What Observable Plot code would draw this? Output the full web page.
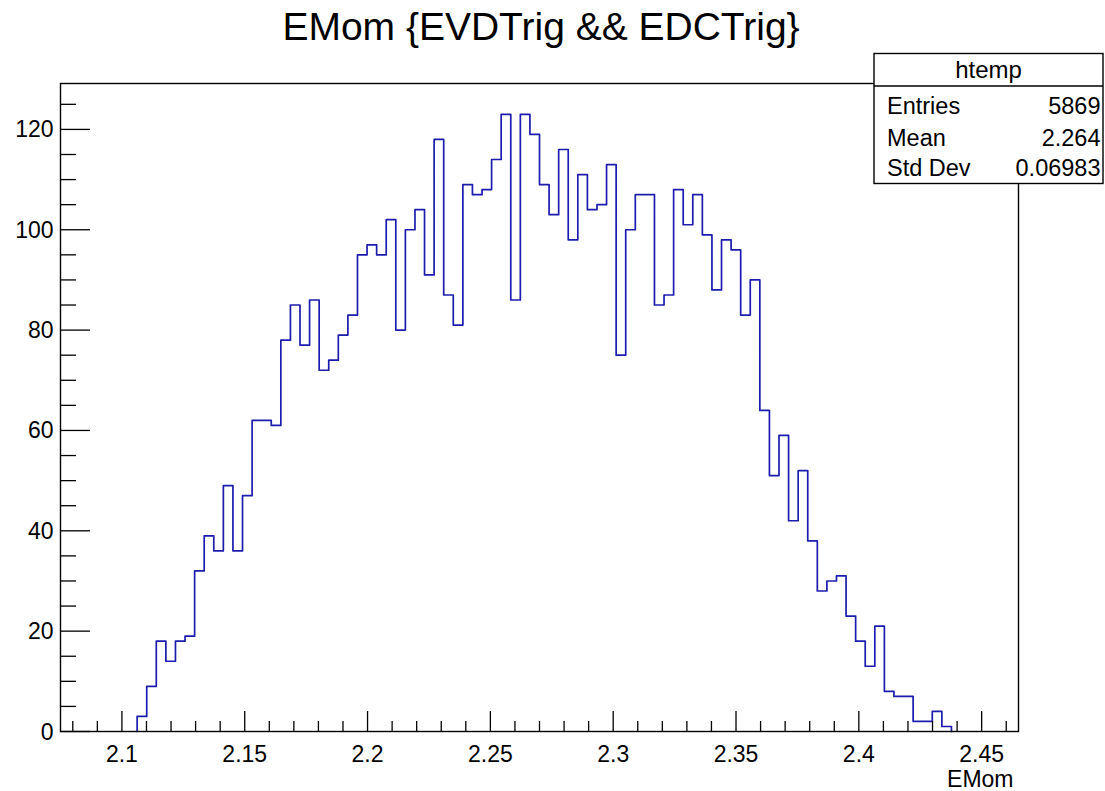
<!DOCTYPE html>
<html><head><meta charset="utf-8">
<script src="https://cdn.jsdelivr.net/npm/d3@7"></script>
<script src="https://cdn.jsdelivr.net/npm/@observablehq/plot@0.6"></script>
<style>html,body{margin:0;padding:0;background:#fff;}</style>
</head><body><div id="chart"></div>
<script>
// ---- data ----
const title = "EMom {EVDTrig && EDCTrig}";
const xLabel = "EMom";
const histName = "htemp";
const statLabels = ["Entries", "Mean", "Std Dev"];
const statValues = ["5869", "2.264", "0.06983"];
const xMin = 2.075, xMax = 2.465, nBins = 100;
const counts = [
  0,0,0,0,0,0,0,0,
  3,9,18,14,18,19,32,39,36,49,36,47,62,62,61,78,85,77,86,72,74,79,83,95,97,95,
  102,80,100,104,91,118,87,81,109,107,108,114,123,86,123,119,109,103,116,98,111,104,105,113,75,100,107,107,
  85,87,108,101,107,99,88,98,96,83,90,64,51,59,42,52,38,28,30,31,23,18,13,21,8,7,7,2,2,4,1,
  0,0,0,0,0,0,0
];
const xTicks = [2.1, 2.15, 2.2, 2.25, 2.3, 2.35, 2.4, 2.45];
const xTickLabels = ["2.1", "2.15", "2.2", "2.25", "2.3", "2.35", "2.4", "2.45"];
const xMinorTicks = [2.08, 2.09, 2.11, 2.12, 2.13, 2.14, 2.16, 2.17, 2.18, 2.19, 2.21, 2.22, 2.23, 2.24,
  2.26, 2.27, 2.28, 2.29, 2.31, 2.32, 2.33, 2.34, 2.36, 2.37, 2.38, 2.39, 2.41, 2.42, 2.43, 2.44, 2.46];
const yTicks = [0, 20, 40, 60, 80, 100, 120];
const yMinorTicks = [5, 10, 15, 25, 30, 35, 45, 50, 55, 65, 70, 75, 85, 90, 95, 105, 110, 115, 125];
const yMax = 129.15;

// ---- layout ----
const W = 1105, H = 791, mL = 60, mR = 87, mT = 83, mB = 60;
const ux = (xMax - xMin) / (W - mL - mR);
const uy = yMax / (H - mT - mB);
const font = "'Liberation Sans', Arial, Helvetica, sans-serif";
const binW = (xMax - xMin) / nBins;
// outline of the histogram from the first to the last filled bin (zero bins lie on the axis)
const first = counts.findIndex(c => c > 0);
let last = counts.length - 1;
while (last > 0 && counts[last] === 0) last--;
const pts = [{x: xMin + first * binW, y: 0}];
for (let i = first; i <= last; i++) pts.push({x: xMin + i * binW, y: counts[i]});
pts.push({x: xMin + (last + 1) * binW, y: counts[last]});
pts.push({x: xMin + (last + 1) * binW, y: 0});

const svg = Plot.plot({
  width: W, height: H,
  marginLeft: mL, marginRight: mR, marginTop: mT, marginBottom: mB,
  x: {domain: [xMin, xMax], axis: null},
  y: {domain: [0, yMax], axis: null},
  style: {fontFamily: font, background: "white", overflow: "visible"},
  marks: [
    Plot.line(pts, {x: "x", y: "y", curve: "step-after", stroke: "#1c1cae", strokeWidth: 1.7}),
    Plot.ruleX(xTicks, {x: d => d, y1: 0, y2: 20 * uy, stroke: "#000", strokeWidth: 1.3}),
    Plot.ruleX(xMinorTicks, {x: d => d, y1: 0, y2: 10 * uy, stroke: "#000", strokeWidth: 1.3}),
    Plot.ruleY(yTicks, {y: d => d, x1: xMin, x2: xMin + 30 * ux, stroke: "#000", strokeWidth: 1.3}),
    Plot.ruleY(yMinorTicks, {y: d => d, x1: xMin, x2: xMin + 16 * ux, stroke: "#000", strokeWidth: 1.3}),
    Plot.frame({stroke: "#000", strokeWidth: 1.4}),
    Plot.text(xTicks, {x: d => d, y: 0, text: (d, i) => xTickLabels[i], dy: 30, lineAnchor: "bottom", fontSize: 23, fill: "#000"}),
    Plot.text(yTicks, {x: xMin, y: d => d, text: d => String(d), textAnchor: "end", dx: -7, dy: 8, lineAnchor: "bottom", fontSize: 23, fill: "#000"}),
    Plot.text([xLabel], {x: xMax, y: 0, text: d => d, textAnchor: "end", dx: -5, dy: 55, lineAnchor: "bottom", fontSize: 23, fill: "#000"})
  ]
});
document.getElementById("chart").appendChild(svg);

// ---- title & stats box ----
const s = d3.select(svg);
s.append("text").attr("x", 541).attr("y", 39.5).attr("text-anchor", "middle")
  .attr("font-family", font).attr("font-size", 39).attr("fill", "#000").text(title);
const bx = 874, by = 53.5, bw = 229, bh = 130;
s.append("rect").attr("x", bx).attr("y", by).attr("width", bw).attr("height", bh)
  .attr("fill", "white").attr("stroke", "#000").attr("stroke-width", 1.4);
s.append("line").attr("x1", bx).attr("x2", bx + bw).attr("y1", 86).attr("y2", 86)
  .attr("stroke", "#000").attr("stroke-width", 1.4);
s.append("text").attr("x", bx + bw / 2).attr("y", 78).attr("text-anchor", "middle")
  .attr("font-family", font).attr("font-size", 24).attr("fill", "#000").text(histName);
const rowY = [113.5, 145.5, 175.5];
statLabels.forEach((l, i) => {
  s.append("text").attr("x", 887).attr("y", rowY[i]).attr("text-anchor", "start").attr("font-family", font)
    .attr("font-size", 23.5).attr("fill", "#000").text(l);
  s.append("text").attr("x", 1100.5).attr("y", rowY[i]).attr("text-anchor", "end").attr("font-family", font)
    .attr("font-size", 23.5).attr("fill", "#000").text(statValues[i]);
});
</script>
</body></html>
